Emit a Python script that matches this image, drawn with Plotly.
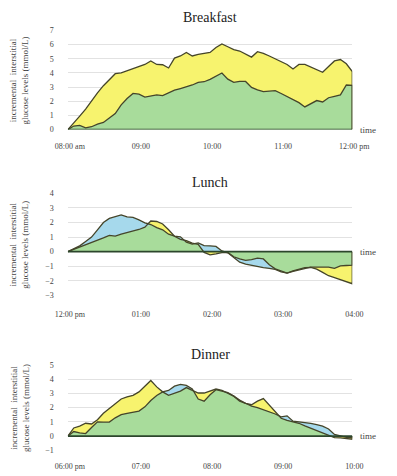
import numpy as np
import plotly.graph_objects as go

# Minutes after the start of each meal window (5-minute sensor readings)
minutes = list(range(0, 241, 5))

breakfast_yellow = [0, 0.45, 0.95, 1.45, 2.05, 2.6, 3.1, 3.55, 3.95, 4.0, 4.15, 4.3, 4.4,
                    4.6, 4.85, 4.6, 4.58, 4.35, 5.05, 5.2, 5.45, 5.2, 5.32, 5.38, 5.45,
                    5.8, 6.05, 5.85, 5.65, 5.55, 5.35, 5.12, 5.5, 5.38, 5.2, 5.0, 4.82,
                    4.6, 4.28, 4.6, 4.6, 4.4, 4.2, 4.05, 4.45, 4.85, 4.95, 4.65, 4.1]
breakfast_blue = [0, 0.25, 0.3, 0.12, 0.2, 0.38, 0.5, 0.82, 1.13, 1.75, 2.2, 2.55, 2.5,
                  2.3, 2.35, 2.45, 2.4, 2.6, 2.78, 2.9, 3.0, 3.15, 3.33, 3.38, 3.55,
                  3.8, 4.0, 3.56, 3.33, 3.4, 3.4, 2.98, 2.8, 2.68, 2.72, 2.75, 2.55,
                  2.35, 2.1, 1.9, 1.6, 1.85, 2.05, 1.95, 2.25, 2.35, 2.45, 3.15, 3.12]

lunch_yellow = [0, 0.15, 0.32, 0.48, 0.65, 0.8, 0.95, 1.12, 1.06, 1.2, 1.3, 1.42, 1.52,
                1.68, 2.1, 2.07, 1.9, 1.5, 1.06, 0.84, 0.75, 0.58, 0.5, -0.05, -0.22,
                -0.15, -0.06, -0.05, -0.35, -0.5, -0.6, -0.55, -0.45, -0.5, -0.9, -1.18, -1.35,
                -1.47, -1.32, -1.22, -1.1, -1.08, -1.2, -1.42, -1.65, -1.78, -1.92, -2.05, -2.2]
lunch_blue = [0, 0.18, 0.4, 0.7, 1.0, 1.5, 2.0, 2.28, 2.38, 2.52, 2.38, 2.35, 2.18,
              1.98, 1.86, 1.65, 1.5, 1.2, 1.06, 1.02, 0.65, 0.52, 0.6, 0.42, 0.4,
              0.36, 0.05, -0.08, -0.4, -0.72, -0.86, -0.95, -1.02, -1.1, -1.15, -1.22, -1.38,
              -1.47, -1.35, -1.25, -1.15, -1.06, -1.06, -1.05, -1.06, -1.15, -0.98, -0.95, -0.92]

dinner_yellow = [0, 0.57, 0.7, 0.9, 0.85, 1.15, 1.6, 1.95, 2.3, 2.6, 2.75, 2.86, 3.1,
                 3.5, 3.9, 3.45, 3.1, 2.86, 3.0, 3.15, 3.4, 3.2, 3.02, 3.02, 3.15,
                 3.3, 3.2, 3.0, 2.8, 2.52, 2.3, 2.2, 2.45, 2.63, 2.15, 1.65, 1.25,
                 1.1, 1.0, 0.9, 0.72, 0.55, 0.38, 0.2, 0.05, -0.1, -0.12, -0.15, -0.22]
dinner_blue = [0, 0.32, 0.22, 0.18, 0.6, 1.0, 0.98, 0.98, 1.28, 1.5, 1.6, 1.65, 1.75,
               2.05, 2.5, 2.85, 3.1, 3.2, 3.5, 3.62, 3.55, 3.3, 2.6, 2.45, 2.9,
               3.25, 3.15, 3.05, 2.8, 2.45, 2.3, 2.1, 2.0, 1.85, 1.75, 1.55, 1.35,
               1.42, 1.05, 1.0, 0.96, 0.9, 0.8, 0.7, 0.5, 0.12, 0.02, -0.08, -0.12]

tick_minutes = [0, 60, 120, 180, 240]
breakfast_ticks = ["08:00 am", "09:00", "10:00", "11:00", "12:00 pm"]
lunch_ticks = ["12:00 pm", "01:00", "02:00", "03:00", "04:00"]
dinner_ticks = ["06:00 pm", "07:00", "08:00", "09:00", "10:00"]

YELLOW = "#f7f36e"
BLUE = "#a6d9ec"
GREEN = "#a8dc9b"
EDGE = "#45452a"
BASE = "#2c462c"
SERIF = "Liberation Serif"

W, H = 397, 476
X_DOMAIN = [59.5 / W, 368 / W]

panels = [
    dict(name="Breakfast", a=breakfast_yellow, b=breakfast_blue, yrange=[0, 7],
         ticks=breakfast_ticks, top=27, bottom=128, title_y=13.5, standoff=10),
    dict(name="Lunch", a=lunch_yellow, b=lunch_blue, yrange=[-3, 4],
         ticks=lunch_ticks, top=193, bottom=297, title_y=182, standoff=13),
    dict(name="Dinner", a=dinner_yellow, b=dinner_blue, yrange=[-1, 5],
         ticks=dinner_ticks, top=367.7, bottom=455, title_y=357, standoff=10),
]

fig = go.Figure()
t = np.array(minutes, dtype=float)

for i, p in enumerate(panels, start=1):
    xa = "x" if i == 1 else f"x{i}"
    ya = "y" if i == 1 else f"y{i}"
    a = np.array(p["a"], dtype=float)
    b = np.array(p["b"], dtype=float)
    # shared part of the two responses (same sign, nearer to zero)
    both = np.where(a * b > 0, np.sign(a) * np.minimum(np.abs(a), np.abs(b)), 0.0)

    for vals, col in ((a, YELLOW), (b, BLUE), (both, GREEN)):
        fig.add_trace(go.Scatter(x=t, y=vals, xaxis=xa, yaxis=ya, mode="lines",
                                 fill="tozeroy", fillcolor=col,
                                 line=dict(width=0, color=col), hoverinfo="skip",
                                 showlegend=False))
    for vals in (a, b):
        fig.add_trace(go.Scatter(x=np.append(t, t[-1]), y=np.append(vals, 0.0),
                                 xaxis=xa, yaxis=ya, mode="lines",
                                 line=dict(width=1.3, color=EDGE), hoverinfo="skip",
                                 showlegend=False))
    fig.add_shape(type="line", xref=xa, yref=ya, x0=0, x1=240, y0=0, y1=0,
                  line=dict(color=BASE, width=1.6), layer="above")

    ydom = [1 - p["bottom"] / H, 1 - p["top"] / H]
    xkey = "xaxis" if i == 1 else f"xaxis{i}"
    ykey = "yaxis" if i == 1 else f"yaxis{i}"
    fig.update_layout({
        xkey: dict(domain=X_DOMAIN, anchor=ya, range=[0, 240], tickvals=tick_minutes,
                   ticktext=p["ticks"], showgrid=False, zeroline=False, showline=False,
                   ticks="", ticklabelstandoff=p["standoff"], ticklabelshift=2,
                   tickfont=dict(family=SERIF, size=8, color="#444")),
        ykey: dict(domain=ydom, anchor=xa, range=p["yrange"], dtick=1,
                   showgrid=True, gridcolor="#e2e2e2", gridwidth=1, zeroline=False,
                   showline=False, ticks="", ticklabelstandoff=13,
                   tickfont=dict(family=SERIF, size=8, color="#444")),
    })

    ymid = 1 - (p["top"] + p["bottom"]) / 2 / H
    fig.add_annotation(xref="paper", yref="paper", x=7 / W, y=ymid, textangle=-90,
                       text="incremental  interstitial<br>glucose levels (mmol/L)",
                       showarrow=False, xanchor="center", yanchor="middle",
                       font=dict(family=SERIF, size=9, color="#444"))
    fig.add_annotation(xref="paper", yref="paper", x=(59.5 + 368) / 2 / W,
                       y=1 - p["title_y"] / H, text=p["name"], showarrow=False,
                       xanchor="center", yanchor="middle",
                       font=dict(family=SERIF, size=14, color="#222"))
    fig.add_annotation(xref=xa, yref=ya, x=240, y=0, text="time", showarrow=False,
                       xanchor="left", yanchor="middle", xshift=6,
                       font=dict(family=SERIF, size=9, color="#444"))

fig.update_layout(width=W, height=H, margin=dict(l=0, r=0, t=0, b=0),
                  paper_bgcolor="white", plot_bgcolor="white", showlegend=False)

fig.write_html("out.html")
